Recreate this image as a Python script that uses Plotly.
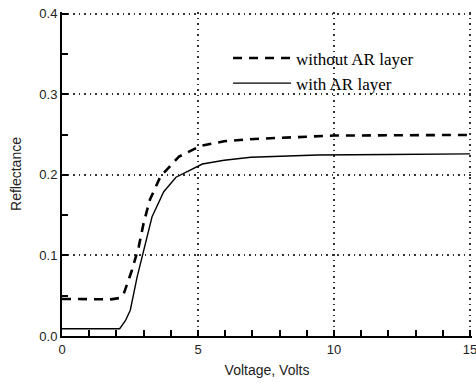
import plotly.graph_objects as go

# Data
volt_no_ar = [0, 0.5, 1.0, 1.5, 1.8, 2.1, 2.27, 2.57, 2.82, 3.0, 3.23, 3.62, 4.3, 5.1, 5.96, 7.07, 8.5, 10.0, 12.0, 15.0]
refl_no_ar = [0.046, 0.046, 0.046, 0.0455, 0.0455, 0.047, 0.0526, 0.0816, 0.1106, 0.14, 0.169, 0.198, 0.2225, 0.236, 0.2416, 0.2445, 0.247, 0.2487, 0.249, 0.2495]

volt_ar = [0, 1.0, 2.12, 2.33, 2.51, 2.76, 2.98, 3.31, 3.74, 4.19, 5.16, 5.96, 6.94, 9.4, 12.0, 14.2, 15.0]
refl_ar = [0.009, 0.009, 0.009, 0.019, 0.032, 0.073, 0.102, 0.148, 0.179, 0.197, 0.2134, 0.218, 0.2217, 0.2246, 0.2252, 0.2259, 0.226]

names = ["without AR layer", "with AR layer"]

fig = go.Figure()
fig.add_trace(go.Scatter(x=volt_no_ar, y=refl_no_ar, mode="lines", name=names[0],
                         line=dict(color="black", width=2.6, dash="9px,7px")))
fig.add_trace(go.Scatter(x=volt_ar, y=refl_ar, mode="lines", name=names[1],
                         line=dict(color="black", width=1.4)))

axis_common = dict(
    showline=True, linecolor="black", linewidth=2,
    ticks="inside", ticklen=6, tickcolor="black", tickwidth=1.5,
    showgrid=True, gridcolor="#333", griddash="1.5px,4px", gridwidth=1.5,
    zeroline=False, mirror=False, ticklabeloverflow="allow", automargin=False,
    tickfont=dict(family="Liberation Sans, Arial", size=13, color="#222"),
    title_font=dict(family="Liberation Sans, Arial", size=14, color="#222"),
)

fig.update_xaxes(range=[0, 15.07], dtick=5, tick0=0,
                 minor=dict(dtick=1, ticks="inside", ticklen=6, tickcolor="black", showgrid=False),
                 title_text="Voltage, Volts", title_standoff=10, **axis_common)
fig.update_yaxes(range=[0, 0.402], dtick=0.1, tick0=0, tickformat=".1f",
                 minor=dict(dtick=0.05, ticks="inside", ticklen=6, tickcolor="black", showgrid=False),
                 title_text="Reflectance", title_standoff=14, **axis_common)

fig.update_layout(
    width=476, height=383,
    margin=dict(l=62, r=4, t=12, b=47),
    paper_bgcolor="white", plot_bgcolor="white",
    showlegend=True,
    legend=dict(x=0.405, y=0.912, xanchor="left", yanchor="top",
                bgcolor="rgba(0,0,0,0)", borderwidth=0,
                font=dict(family="Liberation Serif, Times New Roman", size=17, color="black"),
                itemwidth=58, tracegroupgap=0),
)

fig.write_html("out.html")
